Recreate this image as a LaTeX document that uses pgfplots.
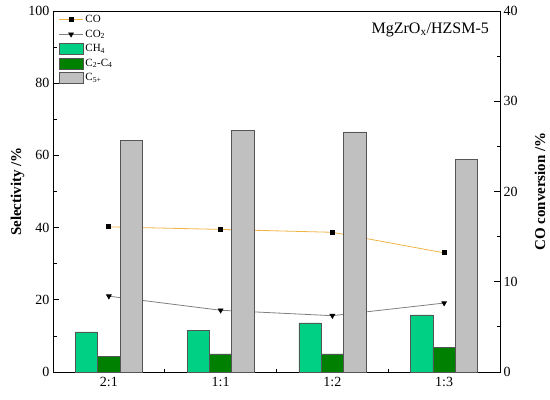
\documentclass[border=0pt]{standalone}
\usepackage{fontspec}
\setmainfont{Liberation Serif}
\usepackage{pgfplots}
\pgfplotsset{compat=1.18}
\definecolor{coline}{RGB}{240,180,70}
\definecolor{cotwo}{RGB}{128,128,128}
\definecolor{chf}{RGB}{0,208,132}
\definecolor{ctwo}{RGB}{0,128,0}
\definecolor{cfive}{RGB}{192,192,192}
\definecolor{edge}{RGB}{85,85,85}
\begin{document}
\begin{tikzpicture}
\pgfplotsset{
  barleg/.style={legend image code/.code={\draw[##1] (0pt,-5.5pt) rectangle (24pt,5.5pt);}},
  lineleg/.style={legend image code/.code={\draw[##1,mark repeat=2,mark phase=2] plot coordinates {(0pt,0pt)(12pt,0pt)(24pt,0pt)};}},
}
\begin{axis}[
  scale only axis, width=447pt, height=361pt,
  xmin=-0.5, xmax=3.5, ymin=0, ymax=100,
  xtick={0,1,2,3}, xticklabels={2:1,1:1,1:2,1:3},
  minor xtick={0.5,1.5,2.5},
  major x tick style={draw=none},
  xtick pos=bottom, ytick pos=left,
  ytick={0,20,40,60,80,100}, minor ytick={10,30,50,70,90},
  tick align=inside,
  major tick length=6pt, minor tick length=3.5pt,
  axis line style={line width=0.9pt, black},
  every tick/.style={black, line width=0.8pt},
  ticklabel style={font=\fontsize{14}{16}\selectfont},
  xticklabel style={yshift=-2pt},
  /pgf/number format/assume math mode=true,
  ylabel={\bfseries Selectivity /\%},
  every axis y label/.style={at={(rel axis cs:0,0.5)}, xshift=-35.5pt, rotate=90, anchor=center, font=\fontsize{15}{17}\selectfont},
  legend style={draw=none, fill=none, at={(0.01,0.997)}, anchor=north west,
    font=\fontsize{11}{13}\selectfont, row sep=1.8pt, inner sep=1pt,
    cells={anchor=west}},
]
\coordinate (sw) at (rel axis cs:0,0);
\coordinate (ne) at (rel axis cs:1,1);
\addplot[coline, line width=0.8pt, mark=square*, mark size=2pt,
  mark options={black, fill=black}, lineleg]
  coordinates {(0,40.2) (1,39.5) (2,38.7) (3,33.0)};
\addlegendentry{CO}
\addplot[cotwo, line width=0.8pt, mark=triangle*, mark size=2.6pt,
  mark options={black, fill=black, rotate=180}, lineleg]
  coordinates {(0,21.0) (1,17.1) (2,15.6) (3,19.1)};
\addlegendentry{CO\textsubscript{2}}
\addplot[ybar, bar width=22.35pt, bar shift=-22.35pt, fill=chf, draw=edge, line width=0.7pt, barleg]
  coordinates {(0,11.1) (1,11.6) (2,13.6) (3,15.8)};
\addlegendentry{CH\textsubscript{4}}
\addplot[ybar, bar width=22.35pt, bar shift=0pt, fill=ctwo, draw=edge, line width=0.7pt, barleg]
  coordinates {(0,4.3) (1,5.0) (2,5.0) (3,6.8)};
\addlegendentry{C\textsubscript{2}-C\textsubscript{4}}
\addplot[ybar, bar width=22.35pt, bar shift=22.35pt, fill=cfive, draw=edge, line width=0.7pt, barleg]
  coordinates {(0,64.2) (1,66.9) (2,66.5) (3,58.8)};
\addlegendentry{C\textsubscript{5+}}
\node[anchor=north east, font=\fontsize{16}{18}\selectfont] at (rel axis cs:0.983,0.978) {MgZrO\textsubscript{x}/HZSM-5};
\end{axis}
\begin{axis}[
  scale only axis, width=447pt, height=361pt,
  xmin=-0.5, xmax=3.5, ymin=0, ymax=40,
  axis x line=none, axis y line*=right,
  ytick={0,10,20,30,40}, minor ytick={5,15,25,35},
  tick align=inside,
  major tick length=6pt, minor tick length=3.5pt,
  axis line style={line width=0.9pt, black, -},
  every tick/.style={black, line width=0.8pt},
  ticklabel style={font=\fontsize{14}{16}\selectfont},
  /pgf/number format/assume math mode=true,
  ylabel={\bfseries CO conversion /\%},
  every axis y label/.style={at={(rel axis cs:1,0.5)}, xshift=40pt, rotate=90, anchor=center, font=\fontsize{15}{17}\selectfont},
]
\end{axis}
\path ([shift={(-53pt,-27pt)}]sw) rectangle ([shift={(50pt,11pt)}]ne);
\end{tikzpicture}
\end{document}
